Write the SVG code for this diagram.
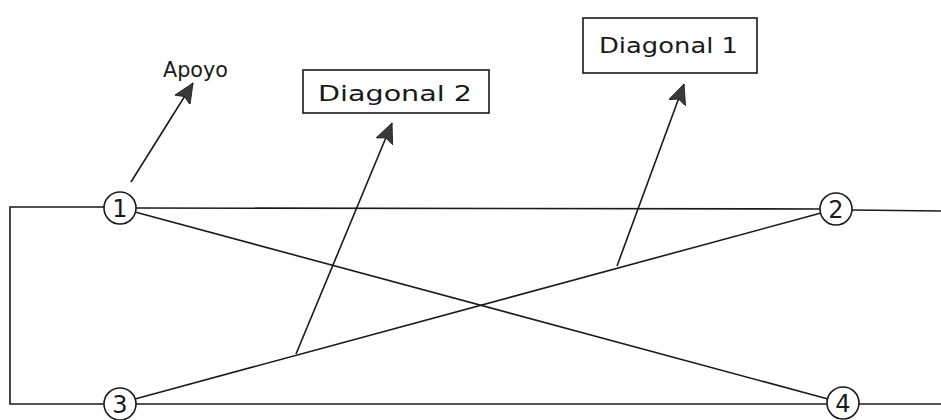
<svg xmlns="http://www.w3.org/2000/svg" width="941" height="420" viewBox="0 0 941 420">
  <style>
    .ln { stroke: #1a1a1a; stroke-width: 1.6; fill: none; }
    .node circle { fill: #ffffff; stroke: #1a1a1a; stroke-width: 1.6; }
    .num { font-family: "DejaVu Sans", "Liberation Sans", sans-serif; font-size: 24px; fill: #1a1a1a; text-anchor: middle; }
    .lbl { font-family: "DejaVu Sans", "Liberation Sans", sans-serif; font-size: 22px; fill: #1a1a1a; }
    .box rect { fill: #ffffff; stroke: #1a1a1a; stroke-width: 1.6; }
  </style>
  <defs>
    <marker id="head" markerUnits="userSpaceOnUse" markerWidth="22" markerHeight="18" refX="20" refY="9" orient="auto">
      <path d="M0,0 L20,9 L0,18 L4,9 z" fill="#3a3a3a" stroke="#1a1a1a" stroke-width="0.8"/>
    </marker>
  </defs>
  <rect width="941" height="420" fill="#ffffff"/>

  <g id="connectors">
    <!-- frame lines -->
    <polyline class="ln" points="104,207 10,207 10,404 104,404"/>
    <line class="ln" x1="136" y1="208" x2="820" y2="209"/>
    <line class="ln" x1="852" y1="210" x2="941" y2="211"/>
    <line class="ln" x1="136" y1="404" x2="827" y2="404"/>
    <line class="ln" x1="859" y1="404" x2="941" y2="404"/>
    <!-- crossing diagonals -->
    <line class="ln" x1="135" y1="212" x2="828" y2="399"/>
    <line class="ln" x1="135" y1="399" x2="821" y2="213"/>
    <!-- label arrows -->
    <line class="ln" x1="131" y1="182" x2="193" y2="83" marker-end="url(#head)"/>
    <line class="ln" x1="296" y1="354" x2="392" y2="123" marker-end="url(#head)"/>
    <line class="ln" x1="617" y1="266" x2="684" y2="84" marker-end="url(#head)"/>
  </g>

  <g id="node1" class="node">
    <circle cx="120" cy="208" r="16"/>
    <text class="num" x="120" y="217">1</text>
  </g>
  <g id="node2" class="node">
    <circle cx="836" cy="209" r="16"/>
    <text class="num" x="836" y="218">2</text>
  </g>
  <g id="node3" class="node">
    <circle cx="120" cy="404" r="16"/>
    <text class="num" x="120" y="413">3</text>
  </g>
  <g id="node4" class="node">
    <circle cx="843" cy="403" r="16"/>
    <text class="num" x="843" y="412">4</text>
  </g>

  <g id="apoyo">
    <text class="lbl" x="163" y="77" font-size="21" textLength="65" lengthAdjust="spacingAndGlyphs">Apoyo</text>
  </g>
  <g id="diagonal2" class="box">
    <rect x="303" y="70" width="186" height="43"/>
    <text class="lbl" x="318" y="101" textLength="154" lengthAdjust="spacingAndGlyphs">Diagonal 2</text>
  </g>
  <g id="diagonal1" class="box">
    <rect x="583" y="18" width="174" height="55"/>
    <text class="lbl" x="599" y="53" textLength="139" lengthAdjust="spacingAndGlyphs">Diagonal 1</text>
  </g>
</svg>
